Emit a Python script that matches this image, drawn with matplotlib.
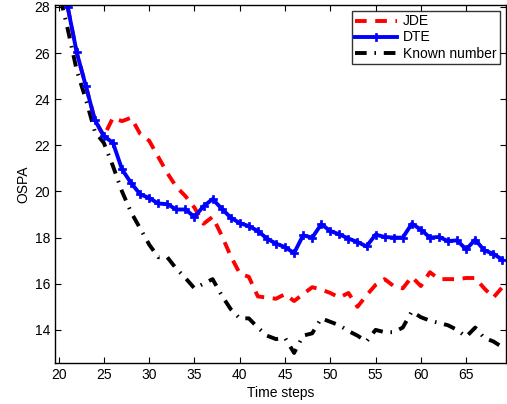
import matplotlib
matplotlib.use("Agg")
import matplotlib.pyplot as plt

plt.rcParams['font.family'] = ['Liberation Sans', 'DejaVu Sans']

steps = list(range(21, 70))
steps_known = list(range(20, 70))

jde = [28.0, 26.0, 24.6, 23.1, 22.4, 23.2, 23.05, 23.2, 22.5, 22.2,
       21.5, 20.8, 20.2, 19.8, 19.3, 18.6, 18.9, 18.1, 17.2, 16.45,
       16.3, 15.45, 15.4, 15.35, 15.55, 15.25, 15.55, 15.85, 15.75, 15.6,
       15.4, 15.6, 15.0, 15.5, 15.95, 16.2, 15.9, 15.8, 16.3, 15.9,
       16.5, 16.2, 16.2, 16.2, 16.25, 16.25, 15.8, 15.4, 15.85]

dte = [28.0, 26.03, 24.58, 23.1, 22.4, 22.11, 20.96, 20.37, 19.88, 19.72,
       19.48, 19.45, 19.22, 19.22, 18.9, 19.36, 19.67, 19.26, 18.87, 18.63,
       18.5, 18.29, 17.96, 17.74, 17.59, 17.33, 18.1, 18.0, 18.58, 18.29,
       18.14, 17.96, 17.81, 17.62, 18.13, 18.03, 18.0, 18.0, 18.6, 18.35,
       18.0, 18.03, 17.85, 17.88, 17.49, 17.91, 17.45, 17.3, 17.04]

known = [28.7, 27.05, 25.25, 24.0, 22.6, 22.1, 21.1, 20.0, 19.1, 18.4,
         17.7, 17.15, 17.15, 16.65, 16.25, 15.8, 16.0, 16.2, 15.5, 14.9,
         14.5, 14.5, 14.1, 13.75, 13.6, 13.65, 13.0, 13.75, 13.85, 14.5,
         14.35, 14.2, 13.95, 13.75, 13.5, 14.0, 13.9, 13.9, 14.1, 14.8,
         14.55, 14.4, 14.3, 14.2, 14.0, 13.7, 14.1, 13.65, 13.5, 13.25]

xticks = [20, 25, 30, 35, 40, 45, 50, 55, 60, 65]
yticks = [14, 16, 18, 20, 22, 24, 26, 28]

fig = plt.figure(figsize=(5.07, 4.04), dpi=100)
ax = fig.add_axes([0.1085, 0.1007, 0.8895, 0.8877])

ax.plot(steps_known, known, color='black', linestyle=(0, (3, 2, 0.4, 2)), lw=2.8,
        label='Known number')
ax.plot(steps, jde, color='red', linestyle=(0, (3, 2.2)), lw=2.8, label='JDE')
ax.plot(steps, dte, color='blue', lw=2.8, marker='P', markersize=5.5,
        markeredgewidth=0.5, label='DTE')

ax.set_xlim(19.6, 69.4)
ax.set_ylim(12.55, 28.1)
ax.set_xticks(xticks)
ax.set_yticks(yticks)
ax.tick_params(direction='in', top=True, right=True, labelsize=10, length=4, width=0.8)
for s in ax.spines.values():
    s.set_linewidth(1.0)

ax.set_xlabel('Time steps', fontsize=10, labelpad=2.5)
ax.set_ylabel('OSPA', fontsize=10, labelpad=3)

h, l = ax.get_legend_handles_labels()
order = [1, 2, 0]
leg = ax.legend([h[i] for i in order], [l[i] for i in order], loc='upper right',
                fontsize=10, frameon=True, fancybox=False, edgecolor='black',
                borderaxespad=0.45, handlelength=3.0, handletextpad=0.4,
                borderpad=0.25, labelspacing=0.15)
leg.get_frame().set_linewidth(1.0)

fig.savefig('out.png', dpi=100)
